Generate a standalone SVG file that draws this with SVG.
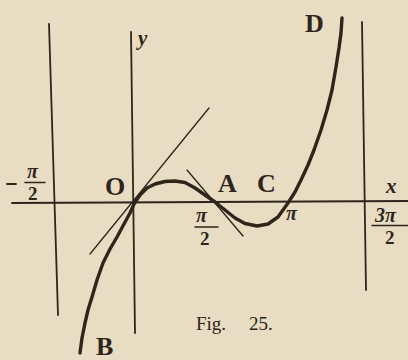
<svg xmlns="http://www.w3.org/2000/svg" width="408" height="360" viewBox="0 0 408 360">
<style>
.ink{stroke:#2e251b;fill:none;stroke-linecap:round;stroke-linejoin:round}
.ax{stroke-width:1.8}
.tan{stroke-width:1.3}
.crv{stroke-width:3.4}
text{fill:#2e251b;font-family:"Liberation Serif","Times New Roman",serif}
.lb{font-size:26px;font-weight:bold}
.it{font-style:italic;font-weight:bold;font-size:21px}
.fr{font-size:19px;font-weight:bold}
.pi{font-size:20px;font-style:italic;font-weight:bold}
</style>
<rect width="408" height="360" fill="#e8dcc2"/>
<g id="connectors">
<line class="ink ax" x1="12" y1="203" x2="408" y2="201"/>
<line class="ink ax" x1="131" y1="32" x2="135" y2="333"/>
<line class="ink ax" x1="49" y1="24" x2="58" y2="315"/>
<line class="ink ax" x1="362" y1="22" x2="366" y2="290"/>
<line class="ink tan" x1="90" y1="254" x2="209" y2="108"/>
<line class="ink tan" x1="187" y1="170" x2="243" y2="236"/>
<path class="ink crv" d="M80,353 L82,338 L85,323 L88,310 L92,297 L97,280 L103,263 L110,249 L117,237 L124,224 L130,213 L134,204 L140,195 L147,188 L155,184 L165,181.5 L175,181 L185,182.5 L195,188 L205,195 L215,202 L225,210 L235,218 L245,223.5 L257,226 L268,224 L278,217 L288,203 L295,192 L301,180 L308,165 L314,150 L321,130 L327,110 L332,90 L336,67 L339,48 L341,33 L342,18"/>
</g>
<g id="labels">
<text class="it" x="138" y="45">y</text>
<text class="lb" x="305" y="32">D</text>
<text class="lb" x="105" y="195" font-weight="normal">O</text>
<text class="lb" x="218" y="192">A</text>
<text class="lb" x="257" y="192">C</text>
<text class="lb" x="96" y="355" font-size="25">B</text>
<text class="it" x="386" y="193">x</text>
<text class="pi" x="286" y="220">π</text>
</g>
<g id="frac-neg">
<line class="ink" stroke-width="1.8" x1="7" y1="184" x2="16" y2="184"/>
<text class="pi" x="27" y="178">π</text>
<line class="ink" stroke-width="1.5" x1="25" y1="182.5" x2="45" y2="182.5"/>
<text class="fr" x="28" y="200">2</text>
</g>
<g id="frac-half">
<text class="pi" x="196" y="222">π</text>
<line class="ink" stroke-width="1.5" x1="195" y1="227" x2="218" y2="227"/>
<text class="fr" x="200" y="245">2</text>
</g>
<g id="frac-three">
<text class="pi" x="375" y="222">3π</text>
<line class="ink" stroke-width="1.5" x1="372" y1="225.5" x2="408" y2="225.5"/>
<text class="fr" x="385" y="244">2</text>
</g>
<g id="caption">
<text x="196" y="330" font-size="19">Fig.</text>
<text x="249" y="330" font-size="19">25.</text>
</g>
</svg>
